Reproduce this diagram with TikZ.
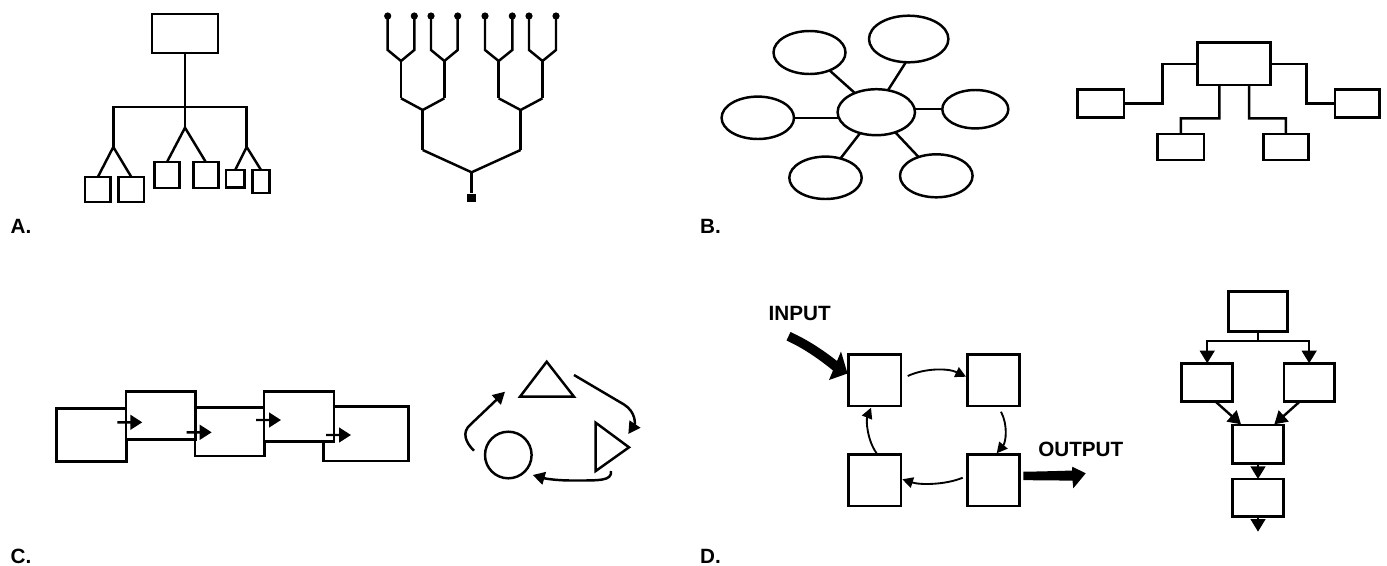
\documentclass[tikz,border=0pt]{standalone}
\usepackage{fontspec}
\setmainfont{Liberation Sans}
\usetikzlibrary{shapes.geometric,arrows.meta,calc}

% box node from its corner coordinates: \boxat[opts]{x1}{y1}{x2}{y2}{name}
\newcommand{\boxat}[6][]{%
  \node[bx,#1,minimum width={(#4-#2)*0.75pt},minimum height={(#5-#3)*0.75pt}]
    (#6) at ({(#2+#4)/2},{(#3+#5)/2}) {};}
% ellipse node: \ellat{cx}{cy}{rx}{ry}{name}
\newcommand{\ellat}[5]{%
  \node[ell,minimum width={2*#3*0.75pt},minimum height={2*#4*0.75pt}] (#5) at (#1,#2) {};}

\begin{document}
\begin{tikzpicture}[x=0.75pt,y=-0.75pt,line width=1.85pt,
  bx/.style={draw,fill=white,inner sep=0pt,outer sep=0pt},
  ell/.style={draw,ellipse,inner sep=0pt,outer sep=0pt},
  lbl/.style={font=\bfseries\fontsize{15.5pt}{18pt}\selectfont,inner sep=0pt,anchor=base west},
  chainarr/.style={-{Triangle[length=9pt,width=11pt]}},
  cyclearr/.style={-{Triangle[length=9pt,width=9.5pt]}},
  looparr/.style={line width=1.4pt,-{Triangle[length=8pt,width=8pt]}},
  flowarr/.style={line width=1.8pt,-{Triangle[length=9.5pt,width=11pt]}}]
\useasboundingbox (0,0) rectangle (1387,565);

% ---------- A: hierarchy ----------
\boxat{152}{14}{218}{53}{ta}
\boxat{85}{177}{110.7}{202}{a1}
\boxat{118.7}{177}{144}{202}{a2}
\boxat{154.3}{162}{179.7}{188}{a3}
\boxat{193.3}{162}{218.3}{188}{a4}
\boxat{226}{170}{244.3}{187.3}{a5}
\boxat{252.7}{170}{269.3}{193}{a6}
\coordinate (al) at (113.3,107);
\coordinate (ar) at (246.7,107);
\coordinate (af1) at (113.3,147);
\coordinate (af2) at (185,127.7);
\coordinate (af3) at (246.7,147);
\draw (ta.south) -- (af2);
\draw (af1) -- (al) -- (ar) -- (af3);
\draw (a1.north) -- (af1) -- (a2.north);
\draw (a3.north) -- (af2) -- (a4.north);
\draw (a5.north) -- (af3) -- (a6.north);

% ---------- A: binary tree ----------
\foreach \a/\b in {387.7/414.3,431/457.7,485/512.3,529/556}{
  \draw (\a,16) -- (\a,50) -- ({(\a+\b)/2},61) -- (\b,50) -- (\b,16);
  \draw ({(\a+\b)/2},61) -- ({(\a+\b)/2},98.3);
}
\draw (401,98.3) -- (422.7,110) -- (444.35,98.3);
\draw (422.7,110) -- (422.7,150);
\draw (498.65,98.3) -- (520.6,110) -- (542.5,98.3);
\draw (520.6,110) -- (520.6,150);
\node[fill,inner sep=0pt,minimum width=6.5pt,minimum height=6pt] (root) at (471.6,198) {};
\draw (422.7,150) -- (471.6,172.3) -- (520.6,150);
\draw (471.6,172.3) -- (root.north);
\foreach \x in {387.7,414.3,431,457.7,485,512.3,529,556}
  \fill (\x,16) circle (3.6);

% ---------- B: cluster ----------
\ellat{876.3}{112.2}{38.7}{23}{ec}
\ellat{809.5}{52.5}{36}{21.5}{etl}
\ellat{908.7}{39}{39.7}{23.3}{etr}
\ellat{757.8}{117.8}{36.2}{21.2}{el}
\ellat{975.3}{109.2}{33}{19.2}{er}
\ellat{825.5}{177.8}{36.2}{21.2}{ebl}
\ellat{936.3}{175.8}{36.3}{21.5}{ebr}
\draw (ec) -- (etl);
\draw (ec.62) -- (etr.263);
\draw (ec.west |- el.east) -- (el.east);
\draw (ec.east |- er.west) -- (er.west);
\draw (ec) -- (ebl);
\draw (ec) -- (ebr);

% ---------- B: org chart ----------
\boxat{1197.7}{42.7}{1270.7}{85}{bc}
\boxat{1077.7}{89.3}{1124}{117.3}{bl}
\boxat{1335}{89.3}{1379.3}{117.3}{br}
\boxat{1157.7}{134}{1204}{160}{bbl}
\boxat{1263.3}{134}{1308.3}{160}{bbr}
\draw (bc.west) -| (1162.7,103.3) -- (bl.east);
\draw (bc.east) -| (1306.7,103.3) -- (br.west);
\draw ($(bc.south)+(-14.9,0)$) -- (1219.3,118.3) -| (bbl.north);
\draw ($(bc.south)+(14.8,0)$) -- (1249,118.3) -| (bbr.north);

% ---------- C: chain ----------
\boxat{56.7}{408.3}{126.7}{461.7}{c1}
\boxat{195}{407.3}{264.3}{456}{c3}
\boxat{323.3}{406.7}{408.3}{461}{c5}
\boxat{126}{391.7}{195.7}{439.3}{c2}
\boxat{264}{391.7}{334}{441.7}{c4}
\draw[chainarr] ($(c1.east)+(-9.4,-12.7)$) -- ($(c2.west)+(16.3,6.8)$);
\draw[chainarr] ($(c2.east)+(-9,16.8)$) -- ($(c3.west)+(16.7,0.65)$);
\draw[chainarr] ($(c3.east)+(-8.3,-11.65)$) -- ($(c4.west)+(17,3.3)$);
\draw[chainarr] ($(c4.east)+(-8,18.3)$) -- ($(c5.west)+(27.7,1.15)$);

% ---------- C: cycle of shapes ----------
\coordinate (tu1) at (546.7,361.7);
\coordinate (tu2) at (574,396.7);
\coordinate (tu3) at (520,396.7);
\coordinate (tr1) at (595.7,422.7);
\coordinate (tr2) at (629,447.3);
\coordinate (tr3) at (595.7,471);
\draw (tu1) -- (tu2) -- (tu3) -- cycle;
\draw (tr1) -- (tr2) -- (tr3) -- cycle;
\node[draw,circle,inner sep=0pt,minimum size={46.6*0.75pt}] (cc) at (508.3,455) {};
\draw[cyclearr] (574,375) -- (624,404.5) .. controls (636,412) and (635,424) .. (628.3,434);
\draw[cyclearr] (611,471) .. controls (612,481) and (600,480.5) .. (572,480.5)
  .. controls (556,480.5) and (545,478.5) .. (532.7,475);
\draw[cyclearr] (474,450.7) .. controls (465,442) and (462,432) .. (470,425) -- (505,391.7);

% ---------- D: feedback loop ----------
\boxat{848.3}{354.3}{901}{406}{dtl}
\boxat{967.7}{354.3}{1019.3}{406}{dtr}
\boxat{848.3}{454.3}{901}{506}{dbl}
\boxat{967.7}{454.3}{1019.3}{506}{dbr}
\draw[looparr] ($(dtl.east)+(6.7,-4.15)$) .. controls (925,368) and (948,368) .. ($(dtr.west)+(-1.7,-3.45)$);
\draw[looparr] ($(dtr.south)+(7.5,5.7)$) .. controls (1008,425) and (1006,442) .. ($(dbr.north)+(3.2,-1)$);
\draw[looparr] ($(dbr.west)+(-5,-2.45)$) .. controls (945,485) and (920,485) .. ($(dbl.east)+(1.3,-0.85)$);
\draw[looparr] ($(dbl.north)+(2,-1)$) .. controls (867,440) and (866,420) .. ($(dtl.south)+(-3.65,1.7)$);
% thick input / output arrows
\fill (790.5,332) .. controls (808,340) and (823,350) .. (837,361) -- (841,351.5)
  -- (847.5,373.5) -- (829,380) -- (833,370.5)
  .. controls (819,359) and (803,348) .. (786.5,340.5) -- cycle;
\fill (1023.3,471.7) .. controls (1040,471.5) and (1058,471) .. (1072,470.5)
  -- (1072.3,466.7) -- (1085.7,473.3) -- (1073.3,488.3) -- (1072.5,480.5)
  .. controls (1058,480.5) and (1040,480.5) .. (1023.3,480) -- cycle;
\node[lbl] (lin) at (767.5,320.7) {INPUT};
\node[lbl] (lout) at (1037,456.7) {OUTPUT};

% ---------- D: flowchart ----------
\boxat{1228.3}{291.7}{1287.3}{331.7}{fa}
\boxat{1181.7}{363.3}{1232.7}{401.7}{fl}
\boxat{1284}{363.3}{1334.3}{401.7}{fr}
\boxat{1232.7}{425}{1283.3}{463.3}{fm}
\boxat{1232.7}{479}{1283.3}{516.7}{fb}
\draw[flowarr] (fa.south) -- ++(0,9.3) -| (fl.north);
\draw[flowarr] (fa.south) -- ++(0,9.3) -| (fr.north);
\draw[flowarr] ($(fl.south)+(8.8,0.3)$) -- ($(fm.north)+(-17,-0.7)$);
\draw[flowarr] ($(fr.south)+(-9.9,0.3)$) -- ($(fm.north)+(16.3,-0.7)$);
\draw[flowarr] (fm.south) -- (fb.north);
\coordinate (fout) at ($(fb.south)+(0,15)$);
\draw[flowarr] (fb.south) -- (fout);

% ---------- panel letters ----------
\node[lbl] (la) at (9.5,233.3) {A.};
\node[lbl] (lb) at (699,233.3) {B.};
\node[lbl] (lc) at (9.5,563.3) {C.};
\node[lbl] (ld) at (699,563.3) {D.};
\end{tikzpicture}
\end{document}
